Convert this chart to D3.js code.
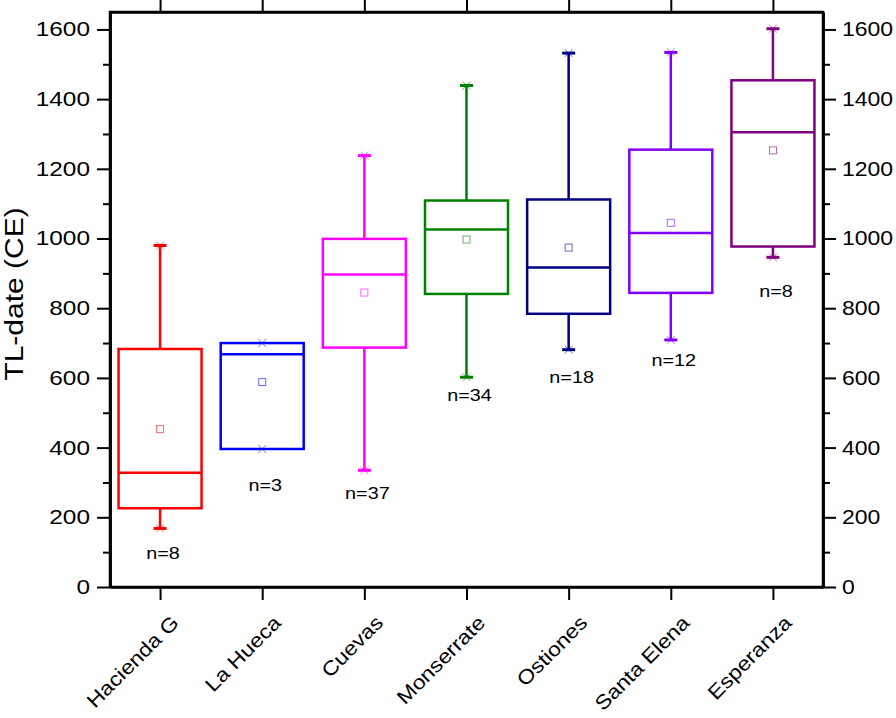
<!DOCTYPE html>
<html>
<head>
<meta charset="utf-8">
<script src="https://cdn.jsdelivr.net/npm/d3@7/dist/d3.min.js"></script>
<style>
body{margin:0;background:#fff;}
text{font-family:"Liberation Sans",Arial,sans-serif;}
</style>
</head>
<body>
<svg id="c" width="896" height="718"></svg>
<script>
const categories = ["Hacienda G","La Hueca","Cuevas","Monserrate","Ostiones","Santa Elena","Esperanza"];
const colors = ["#ff0000","#0000ff","#ff00ff","#008000","#000080","#8000ff","#800080"];
const minVals = [168, 396, 335, 602, 681, 709, 946];
const q1Vals = [226, 396, 687, 841, 784, 844, 977];
const medianVals = [328, 668, 897, 1026, 917, 1016, 1305];
const q3Vals = [683, 700, 999, 1109, 1112, 1255, 1454];
const maxVals = [980, 700, 1238, 1439, 1532, 1534, 1602];
const meanVals = [453, 588, 845, 997, 974, 1045, 1253];
const nCounts = [8, 3, 37, 34, 18, 12, 8];
const nLabelAt = [98, 291, 270, 549, 603, 652, 850];
const yMajorTicks = [0,200,400,600,800,1000,1200,1400,1600];
const yMinorTicks = [100,300,500,700,900,1100,1300,1500];
const yTitle = "TL-date (CE)";

const L=110, R=823, T=12, B=587;
const SX = 1.2; // horizontal stretch of the original typeface
const svg = d3.select("#c");
const x = d3.scalePoint().domain(categories).range([L,R]).padding(0.49);
const y = d3.scaleLinear().domain([0,1650]).range([B,T]);
const halfW = 41.5;

const data = categories.map((c,i)=>({c, col:colors[i], min:minVals[i], q1:q1Vals[i], med:medianVals[i], q3:q3Vals[i], max:maxVals[i], mean:meanVals[i], n:nCounts[i], ly:nLabelAt[i]}));

function stretch(sel, sx){
  sel.each(function(){
    const t = d3.select(this);
    const tx = +t.attr("x")||0;
    t.attr("x",0).attr("transform",`translate(${tx},0) scale(${sx},1)`);
  });
}
function styleAxis(g, fs, sx){
  g.selectAll("path").attr("stroke","#000").attr("stroke-width",2.5);
  g.selectAll("line").attr("stroke","#000").attr("stroke-width",2);
  g.selectAll("text").attr("font-size",fs).attr("fill","#000").style("font-family",'"Liberation Sans",Arial,sans-serif');
  stretch(g.selectAll("text"), sx);
}
const fmt = d3.format("d");
const gl = svg.append("g").attr("transform",`translate(${L},0)`)
  .call(d3.axisLeft(y).tickValues(yMajorTicks).tickFormat(fmt).tickSize(13).tickSizeOuter(0).tickPadding(7));
styleAxis(gl, 20, 1.22);
const glm = svg.append("g").attr("transform",`translate(${L},0)`)
  .call(d3.axisLeft(y).tickValues(yMinorTicks).tickSize(7).tickSizeOuter(0).tickFormat(""));
styleAxis(glm, 20, 1);
const gr = svg.append("g").attr("transform",`translate(${R},0)`)
  .call(d3.axisRight(y).tickValues(yMajorTicks).tickFormat(fmt).tickSize(13).tickSizeOuter(0).tickPadding(6));
styleAxis(gr, 20, 1.15);
const grm = svg.append("g").attr("transform",`translate(${R},0)`)
  .call(d3.axisRight(y).tickValues(yMinorTicks).tickSize(7).tickSizeOuter(0).tickFormat(""));
styleAxis(grm, 20, 1);
const gt = svg.append("g").attr("transform",`translate(0,${T})`)
  .call(d3.axisTop(x).tickSize(12).tickSizeOuter(0).tickFormat(""));
styleAxis(gt, 20, 1);
const gb = svg.append("g").attr("transform",`translate(0,${B})`)
  .call(d3.axisBottom(x).tickSize(13).tickSizeOuter(0).tickFormat(""));
styleAxis(gb, 20, 1);

// frame
svg.append("rect").attr("x",L).attr("y",T).attr("width",R-L).attr("height",B-T)
  .attr("fill","none").attr("stroke","#000").attr("stroke-width",2.5);

// x labels rotated
svg.append("g").selectAll("text").data(categories).join("text")
  .attr("transform",d=>`translate(${x(d)+20},${B+37}) rotate(-45) scale(1.14,1)`)
  .attr("text-anchor","end")
  .attr("font-size",20)
  .attr("fill","#000")
  .text(d=>d);

// y title
svg.append("text")
  .attr("transform",`translate(23,${294}) rotate(-90) scale(${SX},1)`)
  .attr("text-anchor","middle")
  .attr("font-size",25)
  .attr("fill","#000")
  .text(yTitle);

// boxes
const g = svg.append("g");
const bx = g.selectAll("g.box").data(data).join("g").attr("class","box");
bx.append("line").attr("x1",d=>x(d.c)).attr("x2",d=>x(d.c))
  .attr("y1",d=>y(d.q3)).attr("y2",d=>y(d.max)).attr("stroke",d=>d.col).attr("stroke-width",2.5);
bx.append("line").attr("x1",d=>x(d.c)).attr("x2",d=>x(d.c))
  .attr("y1",d=>y(d.q1)).attr("y2",d=>y(d.min)).attr("stroke",d=>d.col).attr("stroke-width",2.5);
bx.filter(d=>d.max>d.q3).append("line").attr("x1",d=>x(d.c)-6.5).attr("x2",d=>x(d.c)+6.5)
  .attr("y1",d=>y(d.max)).attr("y2",d=>y(d.max)).attr("stroke",d=>d.col).attr("stroke-width",3);
bx.filter(d=>d.min<d.q1).append("line").attr("x1",d=>x(d.c)-6.5).attr("x2",d=>x(d.c)+6.5)
  .attr("y1",d=>y(d.min)).attr("y2",d=>y(d.min)).attr("stroke",d=>d.col).attr("stroke-width",3);
bx.append("rect").attr("x",d=>x(d.c)-halfW).attr("width",2*halfW)
  .attr("y",d=>y(d.q3)).attr("height",d=>y(d.q1)-y(d.q3))
  .attr("fill","none").attr("stroke",d=>d.col).attr("stroke-width",2.5);
bx.append("line").attr("x1",d=>x(d.c)-halfW).attr("x2",d=>x(d.c)+halfW)
  .attr("y1",d=>y(d.med)).attr("y2",d=>y(d.med)).attr("stroke",d=>d.col).attr("stroke-width",2.5);
bx.append("rect").attr("x",d=>x(d.c)-3.5).attr("y",d=>y(d.mean)-3.5).attr("width",7).attr("height",7)
  .attr("fill","none").attr("stroke",d=>d.col).attr("stroke-opacity",0.6).attr("stroke-width",1);
bx.each(function(d){
  const gg = d3.select(this);
  [d.min,d.max].forEach(v=>{
    const cx=x(d.c), cy=y(v), s=4;
    gg.append("path").attr("d",`M${cx-s},${cy-s}L${cx+s},${cy+s}M${cx-s},${cy+s}L${cx+s},${cy-s}`)
      .attr("stroke",d.col).attr("stroke-opacity",0.55).attr("stroke-width",1).attr("fill","none");
  });
});
bx.append("text")
  .attr("transform",d=>`translate(${x(d.c)+3},${y(d.ly)}) scale(${SX},1)`)
  .attr("dy","0.35em")
  .attr("text-anchor","middle").attr("font-size",16.5).attr("fill","#000")
  .text(d=>"n="+d.n);
</script>
</body>
</html>
